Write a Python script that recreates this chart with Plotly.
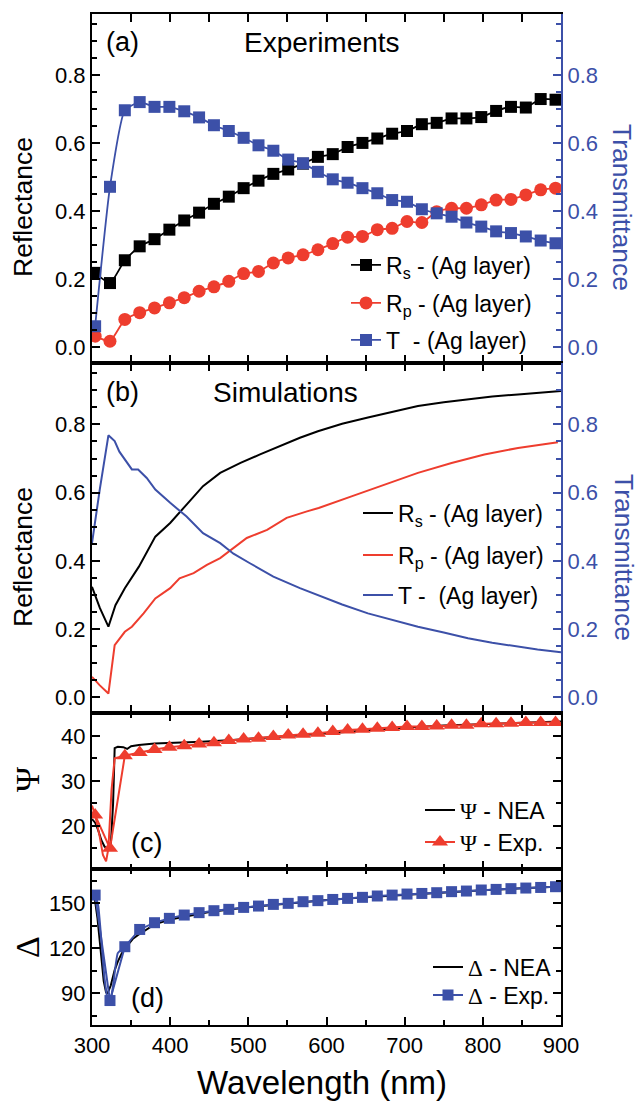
import plotly.graph_objects as go

FONT = "Arial, Liberation Sans, Helvetica, sans-serif"
SERIF = "Liberation Serif, Times New Roman, serif"
BLACK = "#000000"
RED = "#EE3D2E"
BLUE = "#3C50A8"

# ---------------- data ----------------
wl_exp = [304, 323, 342, 361, 380, 399, 418, 437, 456, 475, 494, 513, 532, 551, 570, 589,
          608, 627, 646, 665, 684, 703, 722, 741, 760, 779, 798, 817, 836, 855, 874, 893]

rs_exp = [0.219, 0.189, 0.256, 0.297, 0.318, 0.346, 0.373, 0.396, 0.422, 0.443, 0.468, 0.490,
          0.510, 0.523, 0.540, 0.560, 0.568, 0.589, 0.601, 0.614, 0.628, 0.636, 0.656, 0.660,
          0.673, 0.673, 0.677, 0.695, 0.707, 0.705, 0.730, 0.728]
rp_exp = [0.033, 0.018, 0.082, 0.102, 0.116, 0.131, 0.146, 0.165, 0.178, 0.194, 0.217, 0.223,
          0.248, 0.263, 0.272, 0.287, 0.305, 0.324, 0.326, 0.346, 0.350, 0.370, 0.367, 0.399,
          0.409, 0.409, 0.419, 0.433, 0.435, 0.448, 0.463, 0.468]
t_exp = [0.062, 0.472, 0.697, 0.721, 0.707, 0.707, 0.694, 0.676, 0.653, 0.636, 0.616, 0.594,
         0.578, 0.552, 0.541, 0.516, 0.494, 0.484, 0.468, 0.453, 0.433, 0.428, 0.406, 0.394,
         0.384, 0.367, 0.355, 0.341, 0.336, 0.326, 0.314, 0.306]

wl_rs_sim = [300, 310, 321, 330, 342, 360, 381, 400, 421, 442, 464, 490, 515, 545, 566, 589,
             620, 653, 685, 717, 750, 781, 812, 845, 870, 900]
rs_sim = [0.324, 0.262, 0.207, 0.270, 0.320, 0.383, 0.471, 0.511, 0.565, 0.619, 0.658, 0.687,
          0.712, 0.741, 0.761, 0.780, 0.802, 0.820, 0.838, 0.854, 0.865, 0.874, 0.882, 0.888,
          0.893, 0.898]

wl_rp_sim = [300, 310, 321, 329, 342, 351, 366, 381, 400, 412, 430, 447, 464, 481, 498, 524,
             549, 575, 590, 632, 674, 717, 760, 802, 845, 896]
rp_sim = [0.060, 0.035, 0.011, 0.153, 0.192, 0.207, 0.246, 0.290, 0.320, 0.349, 0.364, 0.388,
          0.408, 0.437, 0.467, 0.491, 0.526, 0.545, 0.555, 0.589, 0.624, 0.658, 0.687, 0.712,
          0.731, 0.748]

wl_t_sim = [300, 310, 321, 329, 335, 342, 351, 359, 370, 381, 390, 400, 421, 442, 464, 481,
            502, 532, 566, 589, 620, 653, 685, 717, 750, 781, 812, 845, 870, 900]
t_sim = [0.452, 0.610, 0.768, 0.751, 0.720, 0.697, 0.668, 0.668, 0.643, 0.609, 0.590, 0.570,
         0.530, 0.481, 0.452, 0.421, 0.393, 0.354, 0.320, 0.300, 0.272, 0.246, 0.226, 0.207,
         0.190, 0.173, 0.160, 0.148, 0.140, 0.132]

psi_exp = [22.4, 15.0, 35.6, 36.3, 37.0, 37.5, 37.8, 38.2, 38.5, 39.0, 39.3, 39.5, 39.9, 40.2,
           40.4, 40.6, 41.0, 41.3, 41.5, 41.7, 41.9, 42.1, 42.1, 42.2, 42.4, 42.4, 42.7, 42.7,
           42.8, 43.0, 43.0, 43.0]
wl_psi_dip = [300, 304, 310, 314, 318, 321, 325, 329, 342]
psi_dip = [24.5, 22.4, 17.5, 13.5, 12.1, 15.0, 28.0, 35.0, 35.6]

wl_psi_nea = [300, 304, 308, 312, 316, 320, 324, 327, 329, 333, 340, 345, 350, 360, 380, 400,
              440, 480, 520, 560, 600, 650, 700, 750, 800, 850, 900]
psi_nea = [21.5, 20.7, 19.0, 16.8, 15.4, 14.8, 15.5, 25.0, 37.3, 37.6, 37.5, 37.1, 37.7, 38.0,
           38.3, 38.4, 38.7, 39.1, 39.6, 40.1, 40.6, 41.3, 41.8, 42.3, 42.6, 42.9, 43.2]

delta_exp = [155.3, 85.0, 120.9, 132.4, 136.9, 139.8, 142.0, 143.6, 144.9, 145.8, 147.1, 148.0,
             149.1, 149.8, 150.9, 151.6, 152.4, 153.1, 153.8, 154.7, 155.3, 156.0, 156.4, 156.9,
             157.6, 158.0, 158.7, 159.1, 159.6, 160.0, 160.4, 160.9]
wl_delta_dip = [300, 304, 308, 312, 316, 320, 323, 327, 333, 342]
delta_dip = [156.0, 155.3, 148.0, 125.0, 100.0, 86.0, 83.0, 95.0, 116.6, 120.9]

wl_delta_nea = [300, 303, 307, 311, 315, 318, 320, 324, 329, 333, 338, 345, 352, 359, 380, 400,
                450, 500, 550, 600, 650, 700, 750, 800, 850, 900]
delta_nea = [156.0, 155.0, 140.0, 118.0, 98.0, 90.5, 89.8, 95.0, 105.3, 111.0, 116.4, 121.5,
             126.0, 128.7, 135.8, 139.0, 144.0, 147.2, 149.8, 152.0, 153.9, 155.6, 157.1, 158.5,
             159.8, 161.0]

x_ticks = [300, 400, 500, 600, 700, 800, 900]

# ---------------- geometry helpers (pixels -> paper) ----------------
W, H = 638, 1101
L, R, T, B = 92, 561, 14, 1025


def px_x(px):
    return (px - L) / (R - L)


def px_y(py):
    return (B - py) / (B - T)


dom_a = [px_y(363), 1.0]
dom_b = [px_y(713), px_y(363)]
dom_c = [px_y(869), px_y(713)]
dom_d = [0.0, px_y(869)]

fig = go.Figure()

# ---------------- panel (a) ----------------
fig.add_trace(go.Scatter(x=wl_exp, y=rs_exp, mode="lines+markers", xaxis="x", yaxis="y",
                         line=dict(color=BLACK, width=1.8, shape="spline", smoothing=0.5),
                         marker=dict(symbol="square", size=12, color=BLACK),
                         name="R<sub>s</sub> - (Ag layer)", legend="legend"))
fig.add_trace(go.Scatter(x=wl_exp, y=rp_exp, mode="lines+markers", xaxis="x", yaxis="y",
                         line=dict(color=RED, width=1.8, shape="spline", smoothing=0.5),
                         marker=dict(symbol="circle", size=13, color=RED),
                         name="R<sub>p</sub> - (Ag layer)", legend="legend2"))
fig.add_trace(go.Scatter(x=wl_exp, y=t_exp, mode="lines+markers", xaxis="x", yaxis="y5",
                         line=dict(color=BLUE, width=1.8, shape="spline", smoothing=0.5),
                         marker=dict(symbol="square", size=12, color=BLUE),
                         name="T\u00a0\u00a0- (Ag layer)", legend="legend3"))

# ---------------- panel (b) ----------------
fig.add_trace(go.Scatter(x=wl_rs_sim, y=rs_sim, mode="lines", xaxis="x2", yaxis="y2",
                         line=dict(color=BLACK, width=2),
                         name="R<sub>s</sub> - (Ag layer)", legend="legend4"))
fig.add_trace(go.Scatter(x=wl_rp_sim, y=rp_sim, mode="lines", xaxis="x2", yaxis="y2",
                         line=dict(color=RED, width=2),
                         name="R<sub>p</sub> - (Ag layer)", legend="legend5"))
fig.add_trace(go.Scatter(x=wl_t_sim, y=t_sim, mode="lines", xaxis="x2", yaxis="y6",
                         line=dict(color=BLUE, width=2),
                         name="T -\u00a0\u00a0(Ag layer)", legend="legend6"))

# ---------------- panel (c) ----------------
PSI = "<span style='font-family:Liberation Serif, serif'>\u03a8</span>"
DEL = "<span style='font-family:Liberation Serif, serif'>\u0394</span>"
fig.add_trace(go.Scatter(x=wl_psi_nea, y=psi_nea, mode="lines", xaxis="x3", yaxis="y3",
                         line=dict(color=BLACK, width=2),
                         name=PSI + " - NEA", legend="legend7"))
fig.add_trace(go.Scatter(x=wl_psi_dip, y=psi_dip, mode="lines", xaxis="x3", yaxis="y3",
                         line=dict(color=RED, width=2), showlegend=False, hoverinfo="skip"))
fig.add_trace(go.Scatter(x=wl_exp, y=psi_exp, mode="lines+markers", xaxis="x3", yaxis="y3",
                         line=dict(color=RED, width=2),
                         marker=dict(symbol="triangle-up", size=14, color=RED),
                         name=PSI + " - Exp.", legend="legend8"))

# ---------------- panel (d) ----------------
fig.add_trace(go.Scatter(x=wl_delta_nea, y=delta_nea, mode="lines", xaxis="x4", yaxis="y4",
                         line=dict(color=BLACK, width=2),
                         name=DEL + " - NEA", legend="legend9"))
fig.add_trace(go.Scatter(x=wl_delta_dip, y=delta_dip, mode="lines", xaxis="x4", yaxis="y4",
                         line=dict(color=BLUE, width=2, shape="spline", smoothing=0.4),
                         showlegend=False, hoverinfo="skip"))
fig.add_trace(go.Scatter(x=wl_exp, y=delta_exp, mode="lines+markers", xaxis="x4", yaxis="y4",
                         line=dict(color=BLUE, width=2),
                         marker=dict(symbol="square", size=11, color=BLUE),
                         name=DEL + " - Exp.", legend="legend10"))

# ---------------- axes ----------------
TICK_SIZE = 22
tickfont = dict(family=FONT, size=TICK_SIZE, color=BLACK)


def xaxis(domain_anchor, labels):
    return dict(domain=[0, 1], anchor=domain_anchor, range=[300, 900],
                tickvals=x_ticks, ticktext=[str(v) for v in x_ticks],
                showticklabels=labels, ticks="inside", ticklen=8, tickwidth=1.6,
                tickcolor=BLACK, showline=True, linecolor=BLACK, linewidth=2,
                mirror="allticks", showgrid=False, zeroline=False, tickfont=tickfont,
                minor=dict(dtick=50, tick0=0, ticks="inside", ticklen=5, tickwidth=1.6,
                           tickcolor=BLACK, showgrid=False))


def yaxis(domain, anchor, rng, dtick, minor_dtick, color=BLACK, side="left",
          mirror=False, overlaying=None, fmt=None):
    d = dict(domain=domain, anchor=anchor, range=rng, dtick=dtick, tick0=0,
             side=side, ticks="inside", ticklen=8, tickwidth=1.6, tickcolor=color,
             showline=True, linecolor=color, linewidth=2, mirror=mirror,
             showgrid=False, zeroline=False,
             tickfont=dict(family=FONT, size=TICK_SIZE, color=color),
             minor=dict(dtick=minor_dtick, tick0=0, ticks="inside", ticklen=5,
                        tickwidth=1.6, tickcolor=color, showgrid=False))
    if overlaying:
        d["overlaying"] = overlaying
    if fmt:
        d["tickformat"] = fmt
    return d


RNG_R = [-0.046, 0.98]
fig.update_layout(
    xaxis=xaxis("y", False),
    xaxis2=xaxis("y2", False),
    xaxis3=xaxis("y3", False),
    xaxis4=xaxis("y4", True),
    yaxis=yaxis(dom_a, "x", RNG_R, 0.2, 0.05, fmt=".1f"),
    yaxis5=yaxis(dom_a, "x", RNG_R, 0.2, 0.05, color=BLUE, side="right",
                 overlaying="y", fmt=".1f"),
    yaxis2=yaxis(dom_b, "x2", RNG_R, 0.2, 0.05, fmt=".1f"),
    yaxis6=yaxis(dom_b, "x2", RNG_R, 0.2, 0.05, color=BLUE, side="right",
                 overlaying="y2", fmt=".1f"),
    yaxis3=yaxis(dom_c, "x3", [10.4, 45.1], 10, 5, mirror="allticks"),
    yaxis4=yaxis(dom_d, "x4", [68.7, 172.7], 30, 15, mirror="allticks"),
)

# ---------------- legends (one per entry, for exact placement) ----------------
legfont = dict(family=FONT, size=23, color=BLACK)
leg_pos = {
    "legend": (386, 265), "legend2": (386, 303), "legend3": (386, 340),
    "legend4": (398, 513), "legend5": (398, 555), "legend6": (398, 595),
    "legend7": (460, 810), "legend8": (460, 842),
    "legend9": (468, 967), "legend10": (468, 995),
}
leg_layout = {}
for key, (tx, ty) in leg_pos.items():
    leg_layout[key] = dict(x=px_x(tx - 40), y=px_y(ty), xanchor="left", yanchor="middle",
                           bgcolor="rgba(0,0,0,0)", borderwidth=0, font=legfont,
                           itemclick=False, itemdoubleclick=False)
fig.update_layout(**leg_layout)

# ---------------- text annotations ----------------
ann = []


def add_text(text, px, py, size, color=BLACK, angle=0, family=FONT):
    ann.append(dict(text=text, x=px_x(px), y=px_y(py), xref="paper", yref="paper",
                    xanchor="center", yanchor="middle", showarrow=False, textangle=angle,
                    font=dict(family=family, size=size, color=color)))


add_text("(a)", 122, 42, 27)
add_text("Experiments", 322, 42, 28)
add_text("(b)", 122, 392, 27)
add_text("Simulations", 285, 392, 28)
add_text("(c)", 146, 843, 27)
add_text("(d)", 147, 998, 27)
add_text("Reflectance", 23, 207, 26.5, angle=-90)
add_text("Reflectance", 23, 557, 26.5, angle=-90)
add_text("Transmittance", 622, 207, 26.5, color=BLUE, angle=90)
add_text("Transmittance", 624, 557, 26.5, color=BLUE, angle=90)
add_text("\u03a8", 27, 780, 34, angle=-90, family=SERIF)
add_text("\u0394", 27, 947, 34, angle=-90, family=SERIF)
add_text("Wavelength (nm)", 322, 1082, 33)

fig.update_layout(
    annotations=ann,
    width=W, height=H,
    margin=dict(l=L, r=W - R, t=T, b=H - B, pad=0),
    paper_bgcolor="white", plot_bgcolor="white",
    font=dict(family=FONT, color=BLACK),
    hovermode=False,
)

fig.write_html("out.html", config={"displayModeBar": False},
               post_script="document.body.style.margin='0';document.body.style.padding='0';")
